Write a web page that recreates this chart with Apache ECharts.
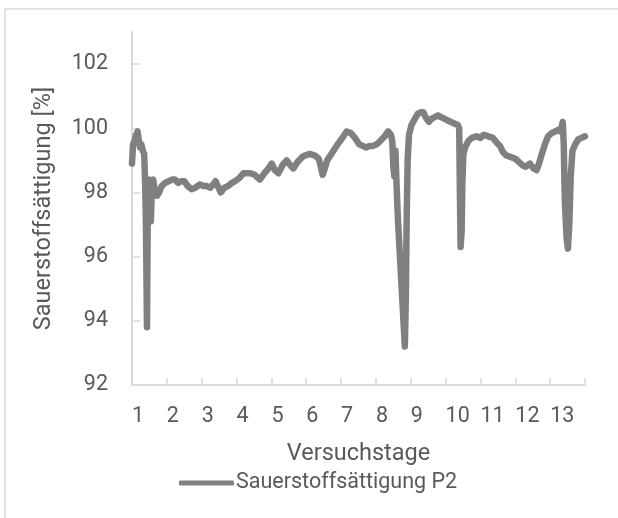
<!DOCTYPE html>
<html>
<head>
<meta charset="utf-8">
<script src="https://cdn.jsdelivr.net/npm/echarts@6/dist/echarts.min.js"></script>
<style>html,body{margin:0;padding:0;background:#fff;}#c{width:618px;height:518px;}</style>
</head>
<body>
<div id="c"></div>
<script>
// Versuchstag (x) und Sauerstoffsättigung [%] (y)
const days = [1.00,1.03,1.07,1.12,1.16,1.20,1.23,1.27,1.31,1.35,1.38,1.40,1.43,1.45,1.48,1.51,1.54,1.57,1.61,1.66,1.72,1.78,1.85,1.95,2.05,2.15,2.23,2.32,2.40,2.50,2.60,2.71,2.82,2.95,3.05,3.14,3.25,3.33,3.40,3.48,3.55,3.65,3.76,3.87,3.96,4.08,4.20,4.30,4.40,4.52,4.67,4.80,4.92,5.01,5.10,5.20,5.32,5.44,5.54,5.63,5.75,5.88,5.96,6.10,6.25,6.36,6.42,6.47,6.52,6.60,6.72,6.87,7.00,7.16,7.28,7.40,7.52,7.62,7.72,7.82,7.92,8.02,8.12,8.25,8.35,8.43,8.47,8.50,8.53,8.56,8.59,8.63,8.70,8.77,8.83,8.86,8.88,8.91,8.95,9.02,9.12,9.20,9.28,9.36,9.45,9.52,9.60,9.69,9.78,9.86,9.96,10.05,10.14,10.25,10.35,10.39,10.41,10.43,10.46,10.48,10.51,10.56,10.65,10.75,10.89,11.00,11.10,11.22,11.36,11.47,11.56,11.65,11.75,11.88,12.00,12.10,12.20,12.30,12.42,12.52,12.61,12.68,12.76,12.85,12.94,13.04,13.14,13.23,13.30,13.36,13.39,13.42,13.47,13.51,13.55,13.59,13.64,13.72,13.80,13.90,14.00];
const spo2 = [98.9,99.5,99.6,99.8,99.9,99.6,99.4,99.5,99.3,99.2,98.2,97.0,93.8,97.2,98.4,98.2,97.1,98.1,98.4,98.0,97.9,98.0,98.2,98.3,98.35,98.4,98.4,98.3,98.35,98.35,98.2,98.1,98.15,98.25,98.2,98.2,98.15,98.25,98.35,98.15,98.0,98.15,98.2,98.3,98.35,98.45,98.6,98.6,98.6,98.55,98.4,98.6,98.75,98.9,98.7,98.6,98.85,99.0,98.85,98.75,98.95,99.1,99.15,99.2,99.15,99.05,98.8,98.55,98.7,99.0,99.2,99.45,99.65,99.9,99.85,99.7,99.5,99.45,99.4,99.45,99.45,99.5,99.6,99.75,99.9,99.8,99.6,98.8,98.5,99.3,98.3,97.2,95.8,94.4,93.2,94.8,97.0,99.0,99.8,100.1,100.3,100.45,100.5,100.5,100.3,100.2,100.3,100.35,100.4,100.35,100.3,100.25,100.2,100.15,100.1,100.0,98.0,96.3,96.8,98.3,99.2,99.4,99.6,99.7,99.75,99.7,99.8,99.75,99.7,99.55,99.45,99.25,99.15,99.1,99.05,98.95,98.85,98.8,98.9,98.75,98.7,98.9,99.2,99.5,99.75,99.85,99.9,99.95,99.9,100.2,99.5,97.8,96.6,96.25,97.0,98.5,99.3,99.5,99.65,99.7,99.75];
const xTicks = [1,2,3,4,5,6,7,8,9,10,11,12,13,14];
const xLabels = [1,2,3,4,5,6,7,8,9,10,11,12,13];
const yTicks = [92,94,96,98,100,102];
const seriesName = 'Sauerstoffsättigung P2';
const xTitle = 'Versuchstage';
const yTitle = 'Sauerstoffsättigung [%]';

const FONT = 'Roboto, "Open Sans", sans-serif';
const chart = echarts.init(document.getElementById('c'), null, {renderer:'canvas'});
chart.setOption({
  animation: false,
  backgroundColor: '#ffffff',
  graphic: [{
    type: 'rect', silent: true,
    shape: {x: 5, y: 9, width: 900, height: 900},
    style: {fill: 'none', stroke: '#d9d9d9', lineWidth: 1.5}
  }],
  grid: {left: 132, right: 33, top: 32, bottom: 133, containLabel: false},
  legend: {
    data: [{name: seriesName, icon: 'roundRect'}],
    left: 179, top: 472, padding: 0,
    itemWidth: 55, itemHeight: 5, itemGap: 3,
    textStyle: {color: '#595959', fontSize: 21.5, fontFamily: FONT, padding: [0,0,0,-3]}
  },
  xAxis: {
    type: 'value', min: 1, max: 14, interval: 1,
    name: xTitle, nameLocation: 'middle', nameGap: 57,
    nameTextStyle: {color: '#595959', fontSize: 23.5, fontFamily: FONT},
    axisLine: {show: true, lineStyle: {color: '#d9d9d9', width: 2}},
    axisTick: {show: true, inside: true, length: 7, lineStyle: {color: '#d9d9d9', width: 1.5}, customValues: xTicks},
    axisLabel: {color: '#595959', fontSize: 21.5, fontFamily: FONT, margin: 21, align: 'left', customValues: xLabels},
    splitLine: {show: false}
  },
  yAxis: {
    type: 'value', min: 92, max: 103, interval: 2,
    name: yTitle, nameLocation: 'middle', nameGap: 76,
    nameTextStyle: {color: '#595959', fontSize: 23.5, fontFamily: FONT},
    axisLine: {show: true, lineStyle: {color: '#d9d9d9', width: 2}},
    axisTick: {show: true, inside: true, length: 8, lineStyle: {color: '#d9d9d9', width: 1.5}, customValues: yTicks},
    axisLabel: {color: '#595959', fontSize: 21.5, fontFamily: FONT, margin: 24, customValues: yTicks},
    splitLine: {show: false}
  },
  series: [{
    name: seriesName, type: 'line', symbol: 'none', showSymbol: false,
    data: days.map((d, i) => [d, spo2[i]]),
    lineStyle: {color: '#808080', width: 6.5, cap: 'round', join: 'round'},
    itemStyle: {color: '#808080'}
  }]
});
</script>
</body>
</html>
